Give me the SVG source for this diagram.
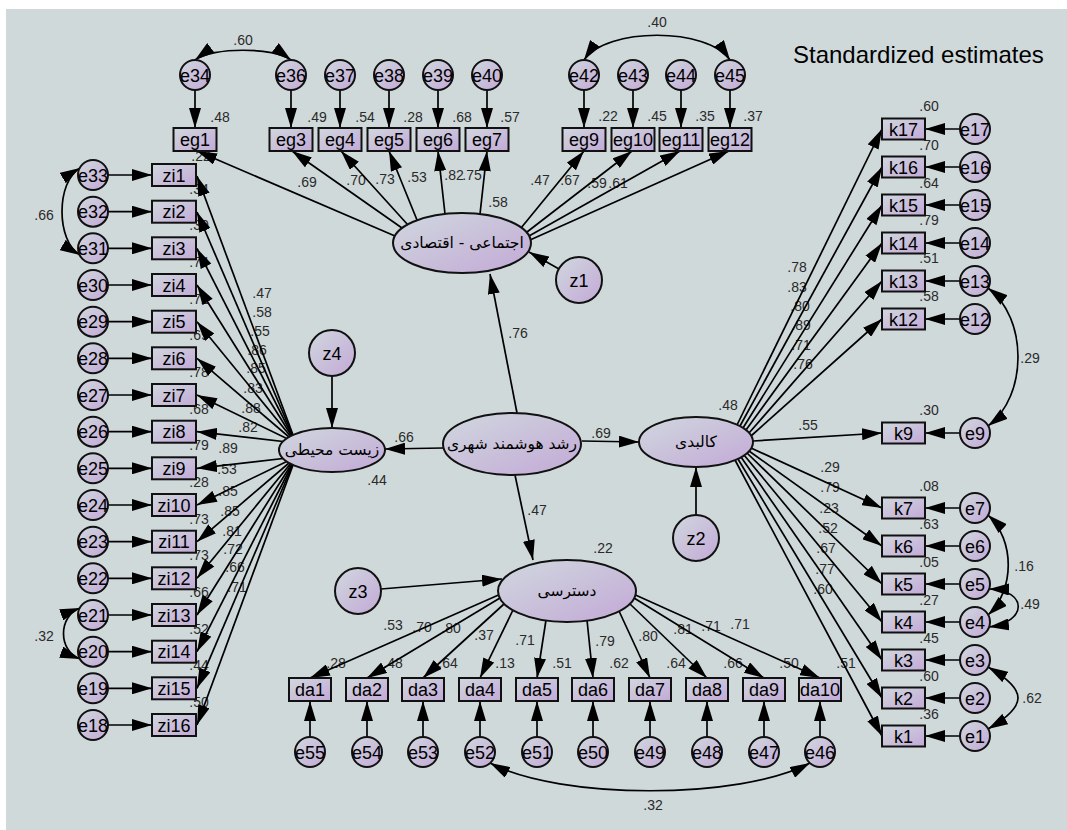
<svg xmlns="http://www.w3.org/2000/svg" width="1067" height="830" viewBox="0 0 1067 830">
<style>
.bg{fill:#d0d9da}
.n{fill:url(#g);stroke:#111;stroke-width:2}
.t{font-family:"Liberation Sans",Arial,sans-serif;font-size:18px;text-anchor:middle;fill:#000}
.fa{font-family:"DejaVu Sans",sans-serif;font-size:15.5px;text-anchor:middle;fill:#000}
.l{font-family:"Liberation Sans",Arial,sans-serif;font-size:14px;text-anchor:middle;fill:#2a2a2a}
.ti{font-family:"Liberation Sans",Arial,sans-serif;font-size:24px;fill:#000}
#connectors line,#connectors path{stroke:#000;stroke-width:1.7;fill:none}
.a{marker-end:url(#ah)}
.cv{marker-start:url(#ah);marker-end:url(#ah)}
</style>
<defs>
<linearGradient id="g" x1="0" y1="0" x2="1" y2="1"><stop offset="0" stop-color="#d0d8df"/><stop offset="1" stop-color="#c3a9d6"/></linearGradient>
<marker id="ah" viewBox="0 0 20 12" refX="20" refY="6" markerWidth="20" markerHeight="12" markerUnits="userSpaceOnUse" orient="auto-start-reverse"><path d="M0,0L20,6L0,12z" fill="#000"/></marker>
</defs>
<rect width="1067" height="830" fill="#fff"/>
<rect x="6" y="9" width="1061" height="821" class="bg"/>
<text class="ti" x="793" y="63">Standardized estimates</text>

<g id="labels">
<text class="l" x="220" y="122">.48</text><text class="l" x="317" y="122">.49</text><text class="l" x="365" y="122">.54</text><text class="l" x="413" y="122">.28</text><text class="l" x="462" y="122">.68</text><text class="l" x="510" y="122">.57</text>
<text class="l" x="608" y="121">.22</text><text class="l" x="657" y="121">.45</text><text class="l" x="705" y="121">.35</text><text class="l" x="753" y="121">.37</text>
<text class="l" x="307" y="187">.69</text><text class="l" x="356" y="185">.70</text><text class="l" x="385" y="184">.73</text><text class="l" x="417" y="182">.53</text><text class="l" x="454" y="180">.82</text><text class="l" x="472" y="180">.75</text><text class="l" x="498" y="207">.58</text>
<text class="l" x="540" y="185">.47</text><text class="l" x="570" y="185">.67</text><text class="l" x="597" y="188">.59</text><text class="l" x="618" y="188">.61</text>
<text class="l" x="243" y="45">.60</text><text class="l" x="657" y="27">.40</text>
<text class="l" x="201" y="161">.22</text><text class="l" x="199" y="193.7">.34</text><text class="l" x="199" y="230.3">.30</text><text class="l" x="199" y="267">.74</text><text class="l" x="199" y="303.7">.72</text><text class="l" x="199" y="340.3">.69</text><text class="l" x="199" y="377">.78</text><text class="l" x="199" y="413.7">.68</text><text class="l" x="199" y="450.3">.79</text><text class="l" x="199" y="487">.28</text><text class="l" x="199" y="523.7">.73</text><text class="l" x="199" y="560.3">.73</text><text class="l" x="199" y="597">.66</text><text class="l" x="199" y="633.7">.52</text><text class="l" x="199" y="670.3">.44</text><text class="l" x="199" y="707">.50</text>
<text class="l" x="262" y="298">.47</text><text class="l" x="262" y="317">.58</text><text class="l" x="260" y="336">.55</text><text class="l" x="257" y="355">.86</text><text class="l" x="256" y="373">.85</text><text class="l" x="253" y="393">.83</text><text class="l" x="251" y="413">.88</text><text class="l" x="248" y="432">.82</text>
<text class="l" x="228" y="453">.89</text><text class="l" x="227" y="474">.53</text><text class="l" x="228" y="496">.85</text><text class="l" x="230" y="516">.85</text><text class="l" x="232" y="536">.81</text><text class="l" x="233" y="554">.72</text><text class="l" x="235" y="572">.66</text><text class="l" x="237" y="592">.71</text>
<text class="l" x="44" y="220">.66</text><text class="l" x="44" y="641">.32</text>
<text class="l" x="518" y="338">.76</text><text class="l" x="404" y="442">.66</text><text class="l" x="377" y="485">.44</text><text class="l" x="601" y="438">.69</text><text class="l" x="728" y="410">.48</text><text class="l" x="537" y="515">.47</text><text class="l" x="603" y="553">.22</text>
<text class="l" x="797" y="272">.78</text><text class="l" x="797" y="292">.83</text><text class="l" x="800" y="311">.80</text><text class="l" x="801" y="330">.89</text><text class="l" x="801" y="350">.71</text><text class="l" x="803" y="369">.76</text><text class="l" x="808" y="430">.55</text>
<text class="l" x="830" y="472">.29</text><text class="l" x="830" y="492">.79</text><text class="l" x="829" y="513">.23</text><text class="l" x="828" y="533">.52</text><text class="l" x="826" y="553">.67</text><text class="l" x="825" y="574">.77</text><text class="l" x="823" y="594">.60</text>
<text class="l" x="929" y="111">.60</text><text class="l" x="929" y="150">.70</text><text class="l" x="929" y="188">.64</text><text class="l" x="929" y="225">.79</text><text class="l" x="929" y="263">.51</text><text class="l" x="929" y="301">.58</text><text class="l" x="929" y="415">.30</text>
<text class="l" x="929" y="491">.08</text><text class="l" x="929" y="529">.63</text><text class="l" x="929" y="567">.05</text><text class="l" x="929" y="605">.27</text><text class="l" x="929" y="643">.45</text><text class="l" x="929" y="681">.60</text><text class="l" x="929" y="719">.36</text>
<text class="l" x="1030" y="363">.29</text><text class="l" x="1024" y="571">.16</text><text class="l" x="1030" y="609">.49</text><text class="l" x="1032" y="703">.62</text>
<text class="l" x="393" y="630">.53</text><text class="l" x="422" y="632">.70</text><text class="l" x="451" y="633">.80</text><text class="l" x="484" y="640">.37</text><text class="l" x="525" y="645">.71</text><text class="l" x="605" y="646">.79</text><text class="l" x="648" y="641">.80</text><text class="l" x="683" y="634">.81</text><text class="l" x="711" y="631">.71</text><text class="l" x="740" y="629">.71</text>
<text class="l" x="336" y="668">.28</text><text class="l" x="393" y="668">.48</text><text class="l" x="448" y="668">.64</text><text class="l" x="505" y="668">.13</text><text class="l" x="562" y="668">.51</text><text class="l" x="619" y="668">.62</text><text class="l" x="676" y="668">.64</text><text class="l" x="733" y="668">.66</text><text class="l" x="789" y="668">.50</text><text class="l" x="846" y="668">.51</text>
<text class="l" x="653" y="810">.32</text>
</g>

<g id="connectors">
<line class="a" x1="195" y1="90" x2="195" y2="128"/><line class="a" x1="291" y1="90" x2="291" y2="128"/><line class="a" x1="340" y1="90" x2="340" y2="128"/><line class="a" x1="389" y1="90" x2="389" y2="128"/><line class="a" x1="438" y1="90" x2="438" y2="128"/><line class="a" x1="487" y1="90" x2="487" y2="128"/>
<line class="a" x1="584" y1="90" x2="584" y2="128"/><line class="a" x1="633" y1="90" x2="633" y2="128"/><line class="a" x1="681" y1="90" x2="681" y2="128"/><line class="a" x1="730" y1="90" x2="730" y2="128"/>
<line class="a" x1="395" y1="236" x2="197" y2="151"/><line class="a" x1="402" y1="228" x2="292" y2="151"/><line class="a" x1="408" y1="225" x2="341" y2="151"/><line class="a" x1="417" y1="220" x2="389" y2="151"/><line class="a" x1="445" y1="214" x2="438" y2="151"/><line class="a" x1="480" y1="214" x2="487" y2="151"/>
<line class="a" x1="521" y1="228" x2="584" y2="151"/><line class="a" x1="527" y1="232" x2="632" y2="151"/><line class="a" x1="529" y1="236" x2="680" y2="151"/><line class="a" x1="530" y1="240" x2="729" y2="151"/>
<line class="a" x1="108" y1="175" x2="152" y2="175"/><line class="a" x1="108" y1="211.7" x2="152" y2="211.7"/><line class="a" x1="108" y1="248.3" x2="152" y2="248.3"/><line class="a" x1="108" y1="285" x2="152" y2="285"/><line class="a" x1="108" y1="321.7" x2="152" y2="321.7"/><line class="a" x1="108" y1="358.3" x2="152" y2="358.3"/><line class="a" x1="108" y1="395" x2="152" y2="395"/><line class="a" x1="108" y1="431.7" x2="152" y2="431.7"/>
<line class="a" x1="108" y1="468.3" x2="152" y2="468.3"/><line class="a" x1="108" y1="505" x2="152" y2="505"/><line class="a" x1="108" y1="541.7" x2="152" y2="541.7"/><line class="a" x1="108" y1="578.3" x2="152" y2="578.3"/><line class="a" x1="108" y1="615" x2="152" y2="615"/><line class="a" x1="108" y1="651.7" x2="152" y2="651.7"/><line class="a" x1="108" y1="688.3" x2="152" y2="688.3"/><line class="a" x1="108" y1="725" x2="152" y2="725"/>
<line class="a" x1="296" y1="443" x2="197" y2="176"/><line class="a" x1="296" y1="443" x2="197" y2="212"/><line class="a" x1="296" y1="443" x2="197" y2="248.5"/><line class="a" x1="296" y1="443" x2="197" y2="285"/><line class="a" x1="296" y1="443" x2="197" y2="321.7"/><line class="a" x1="296" y1="443" x2="197" y2="358.3"/><line class="a" x1="296" y1="443" x2="197" y2="395"/><line class="a" x1="296" y1="443" x2="197" y2="431.7"/>
<line class="a" x1="296" y1="457" x2="197" y2="468.3"/><line class="a" x1="296" y1="457" x2="197" y2="505"/><line class="a" x1="296" y1="457" x2="197" y2="541.7"/><line class="a" x1="296" y1="457" x2="197" y2="578.3"/><line class="a" x1="296" y1="457" x2="197" y2="615"/><line class="a" x1="296" y1="457" x2="197" y2="651.7"/><line class="a" x1="296" y1="457" x2="197" y2="688.3"/><line class="a" x1="296" y1="457" x2="197" y2="725"/>
<line class="a" x1="960" y1="129" x2="925" y2="129"/><line class="a" x1="960" y1="167" x2="925" y2="167"/><line class="a" x1="960" y1="205" x2="925" y2="205"/><line class="a" x1="960" y1="243" x2="925" y2="243"/><line class="a" x1="960" y1="281" x2="925" y2="281"/><line class="a" x1="960" y1="319" x2="925" y2="319"/><line class="a" x1="960" y1="433" x2="925" y2="433"/>
<line class="a" x1="960" y1="508" x2="925" y2="508"/><line class="a" x1="960" y1="546" x2="925" y2="546"/><line class="a" x1="960" y1="584" x2="925" y2="584"/><line class="a" x1="960" y1="622" x2="925" y2="622"/><line class="a" x1="960" y1="660" x2="925" y2="660"/><line class="a" x1="960" y1="698" x2="925" y2="698"/><line class="a" x1="960" y1="736" x2="925" y2="736"/>
<line class="a" x1="737" y1="425" x2="882" y2="129"/><line class="a" x1="740" y1="426" x2="882" y2="167"/><line class="a" x1="743" y1="428" x2="882" y2="205"/><line class="a" x1="746" y1="430" x2="882" y2="243"/><line class="a" x1="749" y1="433" x2="882" y2="281"/><line class="a" x1="751" y1="436" x2="882" y2="319"/><line class="a" x1="753" y1="441" x2="882" y2="433"/>
<line class="a" x1="751" y1="448" x2="882" y2="508"/><line class="a" x1="749" y1="451" x2="882" y2="546"/><line class="a" x1="747" y1="453" x2="882" y2="584"/><line class="a" x1="744" y1="455" x2="882" y2="622"/><line class="a" x1="741" y1="457" x2="882" y2="660"/><line class="a" x1="738" y1="459" x2="882" y2="698"/><line class="a" x1="735" y1="460" x2="882" y2="736"/>
<line class="a" x1="310" y1="737" x2="310" y2="701"/><line class="a" x1="367" y1="737" x2="367" y2="701"/><line class="a" x1="423" y1="737" x2="423" y2="701"/><line class="a" x1="480" y1="737" x2="480" y2="701"/><line class="a" x1="537" y1="737" x2="537" y2="701"/><line class="a" x1="593" y1="737" x2="593" y2="701"/><line class="a" x1="650" y1="737" x2="650" y2="701"/><line class="a" x1="707" y1="737" x2="707" y2="701"/><line class="a" x1="764" y1="737" x2="764" y2="701"/><line class="a" x1="820" y1="737" x2="820" y2="701"/>
<line class="a" x1="498.5" y1="595" x2="310" y2="678"/><line class="a" x1="500" y1="598" x2="367" y2="678"/><line class="a" x1="504" y1="604" x2="423" y2="678"/><line class="a" x1="513" y1="610" x2="480" y2="678"/><line class="a" x1="546" y1="620" x2="537" y2="678"/><line class="a" x1="587" y1="620" x2="593" y2="678"/><line class="a" x1="619" y1="611" x2="650" y2="678"/><line class="a" x1="630" y1="604" x2="707" y2="678"/><line class="a" x1="634" y1="598" x2="764" y2="678"/><line class="a" x1="635.5" y1="595" x2="820" y2="678"/>
<line class="a" x1="517" y1="413" x2="490" y2="274"/><line class="a" x1="443" y1="448" x2="385" y2="449"/><line class="a" x1="582" y1="441" x2="639" y2="442"/><line class="a" x1="515" y1="475" x2="533" y2="560"/>
<line class="a" x1="559" y1="269" x2="529" y2="252"/><line class="a" x1="332" y1="376" x2="332" y2="428"/><line class="a" x1="696" y1="515" x2="696" y2="467"/><line class="a" x1="381" y1="589" x2="502" y2="579"/>
<path class="cv" d="M195,60 C212,47 274,47 291,60"/>
<path class="cv" d="M584,60 C606,27 708,27 730,60"/>
<path class="cv" d="M80,168 C56,182 56,241 80,255"/>
<path class="cv" d="M80,608 C58,616 58,651 80,659"/>
<path class="cv" d="M988,288 C1028,318 1028,396 988,426"/>
<path class="cv" d="M988,515 C1015,540 1015,590 988,615"/>
<path class="cv" d="M989,589 C1028,590 1028,622 989,627"/>
<path class="cv" d="M988,667 C1028,690 1028,706 988,729"/>
<path class="cv" d="M490,763 C560,800 740,800 810,763"/>
</g>

<g id="F1"><ellipse class="n" cx="462" cy="243" rx="69" ry="30"/><text class="fa" x="462" y="248">اجتماعی - اقتصادی</text></g>
<g id="F0"><ellipse class="n" cx="512" cy="444" rx="69" ry="31"/><text class="fa" x="512" y="449">رشد هوشمند شهری</text></g>
<g id="F4"><ellipse class="n" cx="332" cy="450" rx="53" ry="22"/><text class="fa" x="332" y="455">زیست محیطی</text></g>
<g id="F2"><ellipse class="n" cx="696" cy="442" rx="57" ry="25"/><text class="fa" x="696" y="447">کالبدی</text></g>
<g id="F3"><ellipse class="n" cx="567" cy="591" rx="69" ry="31"/><text class="fa" x="567" y="596">دسترسی</text></g>
<g id="z1"><circle class="n" cx="579" cy="280" r="23"/><text class="t" x="579" y="286.5">z1</text></g>
<g id="z4"><circle class="n" cx="332" cy="353" r="23"/><text class="t" x="332" y="359.5">z4</text></g>
<g id="z2"><circle class="n" cx="696" cy="538" r="23"/><text class="t" x="696" y="544.5">z2</text></g>
<g id="z3"><circle class="n" cx="358" cy="591" r="23"/><text class="t" x="358" y="597.5">z3</text></g>

<g id="e34"><circle class="n" cx="195" cy="75" r="15"/><text class="t" x="195" y="81.5">e34</text></g>
<g id="e36"><circle class="n" cx="291" cy="75" r="15"/><text class="t" x="291" y="81.5">e36</text></g>
<g id="e37"><circle class="n" cx="340" cy="75" r="15"/><text class="t" x="340" y="81.5">e37</text></g>
<g id="e38"><circle class="n" cx="389" cy="75" r="15"/><text class="t" x="389" y="81.5">e38</text></g>
<g id="e39"><circle class="n" cx="438" cy="75" r="15"/><text class="t" x="438" y="81.5">e39</text></g>
<g id="e40"><circle class="n" cx="487" cy="75" r="15"/><text class="t" x="487" y="81.5">e40</text></g>
<g id="e42"><circle class="n" cx="584" cy="75" r="15"/><text class="t" x="584" y="81.5">e42</text></g>
<g id="e43"><circle class="n" cx="633" cy="75" r="15"/><text class="t" x="633" y="81.5">e43</text></g>
<g id="e44"><circle class="n" cx="681" cy="75" r="15"/><text class="t" x="681" y="81.5">e44</text></g>
<g id="e45"><circle class="n" cx="730" cy="75" r="15"/><text class="t" x="730" y="81.5">e45</text></g>
<g id="eg1"><rect class="n" x="173.5" y="128" width="43" height="23"/><text class="t" x="195" y="146">eg1</text></g>
<g id="eg3"><rect class="n" x="269.5" y="128" width="43" height="23"/><text class="t" x="291" y="146">eg3</text></g>
<g id="eg4"><rect class="n" x="318.5" y="128" width="43" height="23"/><text class="t" x="340" y="146">eg4</text></g>
<g id="eg5"><rect class="n" x="367.5" y="128" width="43" height="23"/><text class="t" x="389" y="146">eg5</text></g>
<g id="eg6"><rect class="n" x="416.5" y="128" width="43" height="23"/><text class="t" x="438" y="146">eg6</text></g>
<g id="eg7"><rect class="n" x="465.5" y="128" width="43" height="23"/><text class="t" x="487" y="146">eg7</text></g>
<g id="eg9"><rect class="n" x="562.5" y="128" width="43" height="23"/><text class="t" x="584" y="146">eg9</text></g>
<g id="eg10"><rect class="n" x="611.5" y="128" width="43" height="23"/><text class="t" x="633" y="146">eg10</text></g>
<g id="eg11"><rect class="n" x="659.5" y="128" width="43" height="23"/><text class="t" x="681" y="146">eg11</text></g>
<g id="eg12"><rect class="n" x="708.5" y="128" width="43" height="23"/><text class="t" x="730" y="146">eg12</text></g>

<g id="e33"><circle class="n" cx="93" cy="175" r="15"/><text class="t" x="93" y="181.5">e33</text></g>
<g id="e32"><circle class="n" cx="93" cy="211.7" r="15"/><text class="t" x="93" y="218.2">e32</text></g>
<g id="e31"><circle class="n" cx="93" cy="248.3" r="15"/><text class="t" x="93" y="254.8">e31</text></g>
<g id="e30"><circle class="n" cx="93" cy="285" r="15"/><text class="t" x="93" y="291.5">e30</text></g>
<g id="e29"><circle class="n" cx="93" cy="321.7" r="15"/><text class="t" x="93" y="328.2">e29</text></g>
<g id="e28"><circle class="n" cx="93" cy="358.3" r="15"/><text class="t" x="93" y="364.8">e28</text></g>
<g id="e27"><circle class="n" cx="93" cy="395" r="15"/><text class="t" x="93" y="401.5">e27</text></g>
<g id="e26"><circle class="n" cx="93" cy="431.7" r="15"/><text class="t" x="93" y="438.2">e26</text></g>
<g id="e25"><circle class="n" cx="93" cy="468.3" r="15"/><text class="t" x="93" y="474.8">e25</text></g>
<g id="e24"><circle class="n" cx="93" cy="505" r="15"/><text class="t" x="93" y="511.5">e24</text></g>
<g id="e23"><circle class="n" cx="93" cy="541.7" r="15"/><text class="t" x="93" y="548.2">e23</text></g>
<g id="e22"><circle class="n" cx="93" cy="578.3" r="15"/><text class="t" x="93" y="584.8">e22</text></g>
<g id="e21"><circle class="n" cx="93" cy="615" r="15"/><text class="t" x="93" y="621.5">e21</text></g>
<g id="e20"><circle class="n" cx="93" cy="651.7" r="15"/><text class="t" x="93" y="658.2">e20</text></g>
<g id="e19"><circle class="n" cx="93" cy="688.3" r="15"/><text class="t" x="93" y="694.8">e19</text></g>
<g id="e18"><circle class="n" cx="93" cy="725" r="15"/><text class="t" x="93" y="731.5">e18</text></g>
<g id="zi1"><rect class="n" x="152" y="164" width="44" height="22"/><text class="t" x="174" y="181.5">zi1</text></g>
<g id="zi2"><rect class="n" x="152" y="200.7" width="44" height="22"/><text class="t" x="174" y="218.2">zi2</text></g>
<g id="zi3"><rect class="n" x="152" y="237.3" width="44" height="22"/><text class="t" x="174" y="254.8">zi3</text></g>
<g id="zi4"><rect class="n" x="152" y="274" width="44" height="22"/><text class="t" x="174" y="291.5">zi4</text></g>
<g id="zi5"><rect class="n" x="152" y="310.7" width="44" height="22"/><text class="t" x="174" y="328.2">zi5</text></g>
<g id="zi6"><rect class="n" x="152" y="347.3" width="44" height="22"/><text class="t" x="174" y="364.8">zi6</text></g>
<g id="zi7"><rect class="n" x="152" y="384" width="44" height="22"/><text class="t" x="174" y="401.5">zi7</text></g>
<g id="zi8"><rect class="n" x="152" y="420.7" width="44" height="22"/><text class="t" x="174" y="438.2">zi8</text></g>
<g id="zi9"><rect class="n" x="152" y="457.3" width="44" height="22"/><text class="t" x="174" y="474.8">zi9</text></g>
<g id="zi10"><rect class="n" x="152" y="494" width="44" height="22"/><text class="t" x="174" y="511.5">zi10</text></g>
<g id="zi11"><rect class="n" x="152" y="530.7" width="44" height="22"/><text class="t" x="174" y="548.2">zi11</text></g>
<g id="zi12"><rect class="n" x="152" y="567.3" width="44" height="22"/><text class="t" x="174" y="584.8">zi12</text></g>
<g id="zi13"><rect class="n" x="152" y="604" width="44" height="22"/><text class="t" x="174" y="621.5">zi13</text></g>
<g id="zi14"><rect class="n" x="152" y="640.7" width="44" height="22"/><text class="t" x="174" y="658.2">zi14</text></g>
<g id="zi15"><rect class="n" x="152" y="677.3" width="44" height="22"/><text class="t" x="174" y="694.8">zi15</text></g>
<g id="zi16"><rect class="n" x="152" y="714" width="44" height="22"/><text class="t" x="174" y="731.5">zi16</text></g>

<g id="e17"><circle class="n" cx="975" cy="129" r="15"/><text class="t" x="975" y="135.5">e17</text></g>
<g id="e16"><circle class="n" cx="975" cy="167" r="15"/><text class="t" x="975" y="173.5">e16</text></g>
<g id="e15"><circle class="n" cx="975" cy="205" r="15"/><text class="t" x="975" y="211.5">e15</text></g>
<g id="e14"><circle class="n" cx="975" cy="243" r="15"/><text class="t" x="975" y="249.5">e14</text></g>
<g id="e13"><circle class="n" cx="975" cy="281" r="15"/><text class="t" x="975" y="287.5">e13</text></g>
<g id="e12"><circle class="n" cx="975" cy="319" r="15"/><text class="t" x="975" y="325.5">e12</text></g>
<g id="e9"><circle class="n" cx="975" cy="433" r="15"/><text class="t" x="975" y="439.5">e9</text></g>
<g id="e7"><circle class="n" cx="975" cy="508" r="15"/><text class="t" x="975" y="514.5">e7</text></g>
<g id="e6"><circle class="n" cx="975" cy="546" r="15"/><text class="t" x="975" y="552.5">e6</text></g>
<g id="e5"><circle class="n" cx="975" cy="584" r="15"/><text class="t" x="975" y="590.5">e5</text></g>
<g id="e4"><circle class="n" cx="975" cy="622" r="15"/><text class="t" x="975" y="628.5">e4</text></g>
<g id="e3"><circle class="n" cx="975" cy="660" r="15"/><text class="t" x="975" y="666.5">e3</text></g>
<g id="e2"><circle class="n" cx="975" cy="698" r="15"/><text class="t" x="975" y="704.5">e2</text></g>
<g id="e1"><circle class="n" cx="975" cy="736" r="15"/><text class="t" x="975" y="742.5">e1</text></g>
<g id="k17"><rect class="n" x="882" y="118.5" width="43" height="21"/><text class="t" x="903.5" y="135.5">k17</text></g>
<g id="k16"><rect class="n" x="882" y="156.5" width="43" height="21"/><text class="t" x="903.5" y="173.5">k16</text></g>
<g id="k15"><rect class="n" x="882" y="194.5" width="43" height="21"/><text class="t" x="903.5" y="211.5">k15</text></g>
<g id="k14"><rect class="n" x="882" y="232.5" width="43" height="21"/><text class="t" x="903.5" y="249.5">k14</text></g>
<g id="k13"><rect class="n" x="882" y="270.5" width="43" height="21"/><text class="t" x="903.5" y="287.5">k13</text></g>
<g id="k12"><rect class="n" x="882" y="308.5" width="43" height="21"/><text class="t" x="903.5" y="325.5">k12</text></g>
<g id="k9"><rect class="n" x="882" y="422.5" width="43" height="21"/><text class="t" x="903.5" y="439.5">k9</text></g>
<g id="k7"><rect class="n" x="882" y="497.5" width="43" height="21"/><text class="t" x="903.5" y="514.5">k7</text></g>
<g id="k6"><rect class="n" x="882" y="535.5" width="43" height="21"/><text class="t" x="903.5" y="552.5">k6</text></g>
<g id="k5"><rect class="n" x="882" y="573.5" width="43" height="21"/><text class="t" x="903.5" y="590.5">k5</text></g>
<g id="k4"><rect class="n" x="882" y="611.5" width="43" height="21"/><text class="t" x="903.5" y="628.5">k4</text></g>
<g id="k3"><rect class="n" x="882" y="649.5" width="43" height="21"/><text class="t" x="903.5" y="666.5">k3</text></g>
<g id="k2"><rect class="n" x="882" y="687.5" width="43" height="21"/><text class="t" x="903.5" y="704.5">k2</text></g>
<g id="k1"><rect class="n" x="882" y="725.5" width="43" height="21"/><text class="t" x="903.5" y="742.5">k1</text></g>

<g id="da1"><rect class="n" x="289" y="678" width="42" height="23"/><text class="t" x="310" y="696">da1</text></g>
<g id="da2"><rect class="n" x="346" y="678" width="42" height="23"/><text class="t" x="367" y="696">da2</text></g>
<g id="da3"><rect class="n" x="402" y="678" width="42" height="23"/><text class="t" x="423" y="696">da3</text></g>
<g id="da4"><rect class="n" x="459" y="678" width="42" height="23"/><text class="t" x="480" y="696">da4</text></g>
<g id="da5"><rect class="n" x="516" y="678" width="42" height="23"/><text class="t" x="537" y="696">da5</text></g>
<g id="da6"><rect class="n" x="572" y="678" width="42" height="23"/><text class="t" x="593" y="696">da6</text></g>
<g id="da7"><rect class="n" x="629" y="678" width="42" height="23"/><text class="t" x="650" y="696">da7</text></g>
<g id="da8"><rect class="n" x="686" y="678" width="42" height="23"/><text class="t" x="707" y="696">da8</text></g>
<g id="da9"><rect class="n" x="743" y="678" width="42" height="23"/><text class="t" x="764" y="696">da9</text></g>
<g id="da10"><rect class="n" x="799" y="678" width="42" height="23"/><text class="t" x="820" y="696">da10</text></g>
<g id="e55"><circle class="n" cx="310" cy="752" r="15"/><text class="t" x="310" y="758.5">e55</text></g>
<g id="e54"><circle class="n" cx="367" cy="752" r="15"/><text class="t" x="367" y="758.5">e54</text></g>
<g id="e53"><circle class="n" cx="423" cy="752" r="15"/><text class="t" x="423" y="758.5">e53</text></g>
<g id="e52"><circle class="n" cx="480" cy="752" r="15"/><text class="t" x="480" y="758.5">e52</text></g>
<g id="e51"><circle class="n" cx="537" cy="752" r="15"/><text class="t" x="537" y="758.5">e51</text></g>
<g id="e50"><circle class="n" cx="593" cy="752" r="15"/><text class="t" x="593" y="758.5">e50</text></g>
<g id="e49"><circle class="n" cx="650" cy="752" r="15"/><text class="t" x="650" y="758.5">e49</text></g>
<g id="e48"><circle class="n" cx="707" cy="752" r="15"/><text class="t" x="707" y="758.5">e48</text></g>
<g id="e47"><circle class="n" cx="764" cy="752" r="15"/><text class="t" x="764" y="758.5">e47</text></g>
<g id="e46"><circle class="n" cx="820" cy="752" r="15"/><text class="t" x="820" y="758.5">e46</text></g>
</svg>
